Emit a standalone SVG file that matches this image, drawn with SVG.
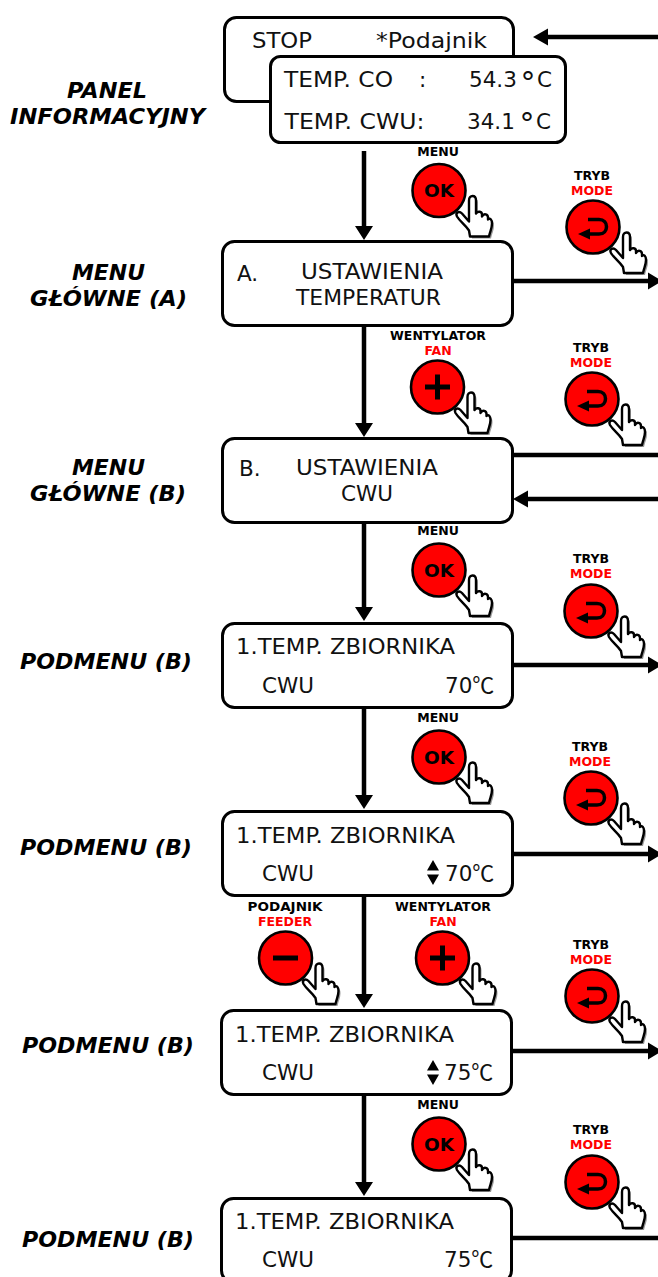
<svg xmlns="http://www.w3.org/2000/svg" xmlns:xlink="http://www.w3.org/1999/xlink" width="658" height="1277" viewBox="0 0 658 1277">
<style>
text{font-family:"DejaVu Sans",Verdana,sans-serif;fill:#111}
.box{fill:#fff;stroke:#000;stroke-width:3}
.t{font-size:21.5px}
.deg{font-size:30px}
.side{font-size:20.5px;font-weight:bold;font-style:italic;fill:#000}
.l{font-size:12.5px;font-weight:bold;text-anchor:middle;fill:#000}
.r{fill:#f00}
.c{stroke:#000;stroke-width:4.5;fill:none}
.h{fill:#000}
.cj{font-family:"Noto Sans CJK SC","DejaVu Sans",sans-serif;font-size:22px}
</style>
<defs>
<path id="hp" d="M31 46L30 40C26 34 21 31 18 26C16 22 20 20 23 23L30 31V10C30 4 37 4 37 10V23C39 20 43 21 43 24V26C45 22 49 24 49 27V29C51 27 53 29 53 33C53 38 51 41 50 46Z"/>
<g id="hand">
<use xlink:href="#hp" fill="#999" transform="translate(2,2)"/>
<use xlink:href="#hp" fill="#fff" stroke="#000" stroke-width="2.4" stroke-linejoin="round"/>
</g>
<circle id="disc" r="26.500" fill="#f00" stroke="#000" stroke-width="2.600"/>
<g id="ok"><use xlink:href="#disc"/><use xlink:href="#hand"/><text x="0" y="6.700" text-anchor="middle" style="font-size:18.500px;font-weight:bold;fill:#000">OK</text></g>
<g id="plus"><use xlink:href="#disc"/><use xlink:href="#hand"/><path d="M-12.500 0H12.500M0-12.500V12.500" stroke="#000" stroke-width="5"/></g>
<g id="minus"><use xlink:href="#disc"/><use xlink:href="#hand"/><path d="M-12.500 0H12.500" stroke="#000" stroke-width="5"/></g>
<g id="mode"><use xlink:href="#disc"/><use xlink:href="#hand"/><path d="M-5-7.500H6C16-7.500 16 7 6 7H-4" fill="none" stroke="#000" stroke-width="3.500"/><path d="M-15 7L-3 1.500V12.500Z" fill="#000"/></g>
<path id="updown" d="M0-12.500L6-2H-6ZM0 12.500L6 2H-6Z" fill="#000"/>
</defs>

<g id="connectors">
<path class="c" d="M658 37H546M514 281H650M513 455H658M658 499H525M512 665H650M512 854H650M512 1051H650M512 1238H658"/>
<path class="h" d="M533 37L548 28.500V45.500ZM662 281L648 272.500V289.500ZM513 499L528 490.500V507.500ZM662 665L648 656.500V673.500ZM662 854L648 845.500V862.500ZM662 1051L648 1042.500V1059.500Z"/>
<path class="c" d="M364 151V228M364 326V425M364 523V610M364 707V797M364 895V996M364 1095V1184"/>
<path class="h" d="M364 240L355 226H373ZM364 437L355 423H373ZM364 621L355 607H373ZM364 809L355 795H373ZM364 1008L355 994H373ZM364 1196L355 1182H373Z"/>
</g>

<g id="panel-back"><rect class="box" x="224.500" y="17.500" width="289" height="84" rx="12"/><text class="t" x="252" y="48" textLength="60" lengthAdjust="spacingAndGlyphs">STOP</text><text class="t" x="376" y="48" textLength="111" lengthAdjust="spacingAndGlyphs">*Podajnik</text></g>
<g id="panel-front"><rect class="box" x="270.500" y="56.500" width="295" height="86" rx="10"/>
<text class="t" x="284" y="87" textLength="109" lengthAdjust="spacingAndGlyphs">TEMP. CO</text><text class="t" x="419" y="87">:</text><text class="t" x="469" y="87">54.3</text><text class="deg" x="520.500" y="93">°</text><text class="t" x="537" y="87">C</text>
<text class="t" x="284.500" y="129" textLength="140" lengthAdjust="spacingAndGlyphs">TEMP. CWU:</text><text class="t" x="467" y="129">34.1</text><text class="deg" x="519.500" y="134">°</text><text class="t" x="536" y="129">C</text></g>
<g id="menu-a"><rect class="box" x="222.500" y="241.500" width="290" height="84" rx="12"/><text class="t" x="237" y="281">A.</text><text class="t" x="301" y="279" textLength="142" lengthAdjust="spacingAndGlyphs">USTAWIENIA</text><text class="t" x="296" y="304.500" textLength="145" lengthAdjust="spacingAndGlyphs">TEMPERATUR</text></g>
<g id="menu-b"><rect class="box" x="222.500" y="438.500" width="290" height="84" rx="12"/><text class="t" x="239" y="475.500">B.</text><text class="t" x="296" y="475" textLength="142" lengthAdjust="spacingAndGlyphs">USTAWIENIA</text><text class="t" x="341" y="501" textLength="52" lengthAdjust="spacingAndGlyphs">CWU</text></g>
<g id="sub-1"><rect class="box" x="222.500" y="623.500" width="290" height="84" rx="12"/><text class="t" x="236" y="654" textLength="219" lengthAdjust="spacingAndGlyphs">1.TEMP. ZBIORNIKA</text><text class="t" x="262" y="692.500" textLength="52" lengthAdjust="spacingAndGlyphs">CWU</text><text class="t" x="445" y="692.500">70<tspan class="cj">℃</tspan></text></g>
<g id="sub-2"><rect class="box" x="222.500" y="811.500" width="290" height="84" rx="12"/><text class="t" x="236" y="842.500" textLength="219" lengthAdjust="spacingAndGlyphs">1.TEMP. ZBIORNIKA</text><text class="t" x="262" y="880.500" textLength="52" lengthAdjust="spacingAndGlyphs">CWU</text><use xlink:href="#updown" x="433" y="872.500"/><text class="t" x="445" y="880.500">70<tspan class="cj">℃</tspan></text></g>
<g id="sub-3"><rect class="box" x="221.500" y="1010.500" width="290" height="84" rx="12"/><text class="t" x="235" y="1041.500" textLength="219" lengthAdjust="spacingAndGlyphs">1.TEMP. ZBIORNIKA</text><text class="t" x="262" y="1079.500" textLength="52" lengthAdjust="spacingAndGlyphs">CWU</text><use xlink:href="#updown" x="433" y="1072.500"/><text class="t" x="444" y="1079.500">75<tspan class="cj">℃</tspan></text></g>
<g id="sub-4"><rect class="box" x="221.500" y="1198.500" width="290" height="84" rx="12"/><text class="t" x="235" y="1229" textLength="219" lengthAdjust="spacingAndGlyphs">1.TEMP. ZBIORNIKA</text><text class="t" x="262" y="1267" textLength="52" lengthAdjust="spacingAndGlyphs">CWU</text><text class="t" x="444" y="1267">75<tspan class="cj">℃</tspan></text></g>

<g id="labels">
<text class="side" x="67" y="98" textLength="80" lengthAdjust="spacingAndGlyphs">PANEL</text><text class="side" x="10" y="124" textLength="195" lengthAdjust="spacingAndGlyphs">INFORMACYJNY</text>
<text class="side" x="72" y="280" textLength="73" lengthAdjust="spacingAndGlyphs">MENU</text><text class="side" x="30" y="306" textLength="157" lengthAdjust="spacingAndGlyphs">GŁÓWNE (A)</text>
<text class="side" x="72" y="475" textLength="73" lengthAdjust="spacingAndGlyphs">MENU</text><text class="side" x="30" y="501" textLength="156" lengthAdjust="spacingAndGlyphs">GŁÓWNE (B)</text>
<text class="side" x="20" y="669" textLength="172" lengthAdjust="spacingAndGlyphs">PODMENU (B)</text>
<text class="side" x="20" y="855" textLength="172" lengthAdjust="spacingAndGlyphs">PODMENU (B)</text>
<text class="side" x="22" y="1053" textLength="172" lengthAdjust="spacingAndGlyphs">PODMENU (B)</text>
<text class="side" x="22" y="1247" textLength="172" lengthAdjust="spacingAndGlyphs">PODMENU (B)</text>
</g>

<g id="btn-ok-1"><text class="l" x="438" y="156">MENU</text><use xlink:href="#ok" x="439" y="190.500"/></g>
<g id="btn-mode-1"><text class="l" x="592" y="180">TRYB</text><text class="l r" x="592" y="195">MODE</text><use xlink:href="#mode" x="593" y="227"/></g>
<g id="btn-plus-1"><text class="l" x="438" y="340">WENTYLATOR</text><text class="l r" x="438" y="355">FAN</text><use xlink:href="#plus" x="437.500" y="387"/></g>
<g id="btn-mode-2"><text class="l" x="591" y="352">TRYB</text><text class="l r" x="591" y="367">MODE</text><use xlink:href="#mode" x="592" y="399"/></g>
<g id="btn-ok-2"><text class="l" x="438" y="535">MENU</text><use xlink:href="#ok" x="439" y="570"/></g>
<g id="btn-mode-3"><text class="l" x="591" y="563">TRYB</text><text class="l r" x="591" y="578">MODE</text><use xlink:href="#mode" x="591" y="611"/></g>
<g id="btn-ok-3"><text class="l" x="438" y="722">MENU</text><use xlink:href="#ok" x="439" y="757"/></g>
<g id="btn-mode-4"><text class="l" x="590" y="751">TRYB</text><text class="l r" x="590" y="766">MODE</text><use xlink:href="#mode" x="591" y="798"/></g>
<g id="btn-minus"><text class="l" x="285" y="911" textLength="75" lengthAdjust="spacingAndGlyphs">PODAJNIK</text><text class="l r" x="285" y="926">FEEDER</text><use xlink:href="#minus" x="285.500" y="958"/></g>
<g id="btn-plus-2"><text class="l" x="443" y="911">WENTYLATOR</text><text class="l r" x="443" y="926">FAN</text><use xlink:href="#plus" x="442.500" y="958"/></g>
<g id="btn-mode-5"><text class="l" x="591" y="949">TRYB</text><text class="l r" x="591" y="964">MODE</text><use xlink:href="#mode" x="592" y="996"/></g>
<g id="btn-ok-4"><text class="l" x="438" y="1109">MENU</text><use xlink:href="#ok" x="439" y="1144"/></g>
<g id="btn-mode-6"><text class="l" x="591" y="1134">TRYB</text><text class="l r" x="591" y="1149">MODE</text><use xlink:href="#mode" x="592" y="1182"/></g>
</svg>
